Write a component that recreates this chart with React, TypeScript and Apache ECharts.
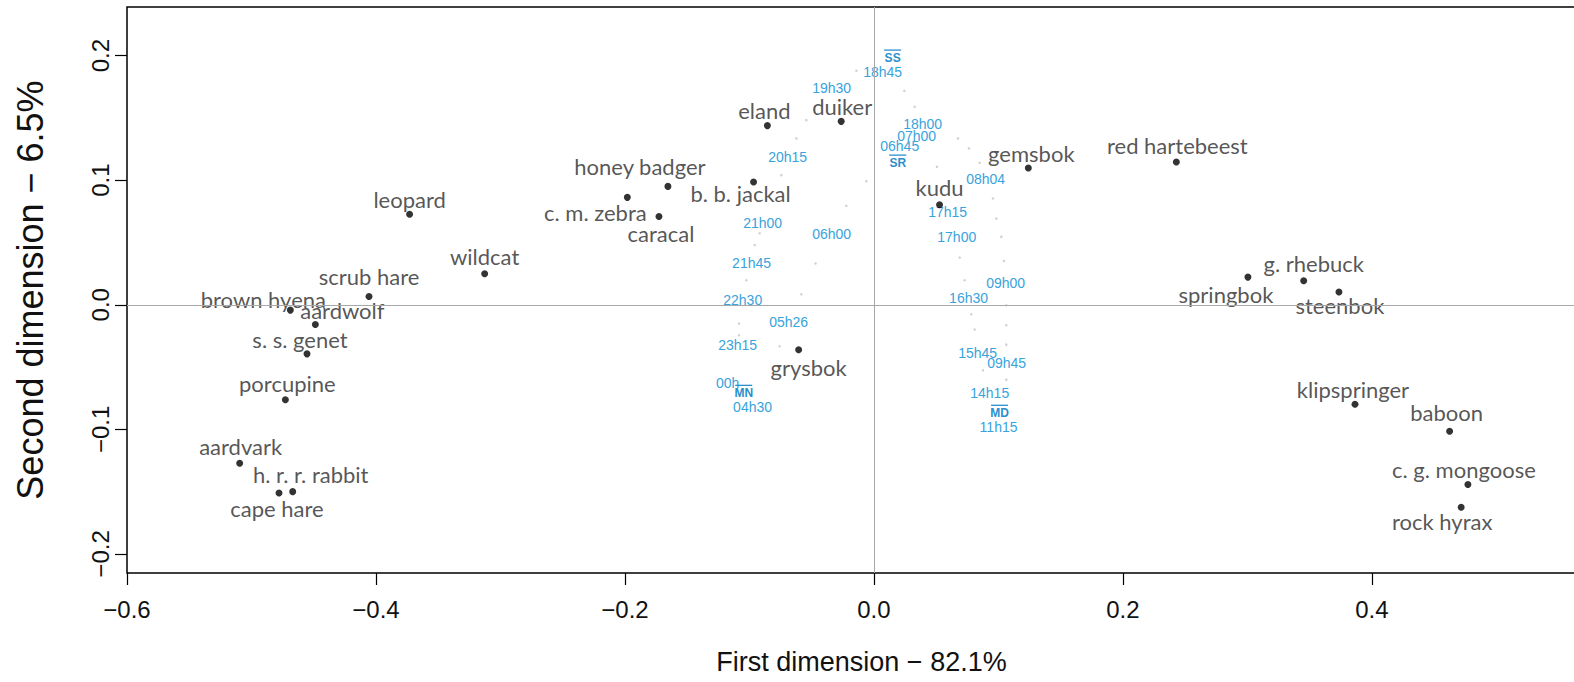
import React, { useEffect, useRef } from "react";
import * as echarts from "echarts";

// ---- Species (black points) ----
const SPECIES = [
  "leopard", "wildcat", "scrub hare", "brown hyena", "aardwolf", "s. s. genet",
  "porcupine", "aardvark", "h. r. r. rabbit", "cape hare",
  "eland", "duiker", "honey badger", "c. m. zebra", "caracal", "b. b. jackal",
  "grysbok", "kudu", "gemsbok", "red hartebeest", "springbok", "g. rhebuck",
  "steenbok", "klipspringer", "baboon", "c. g. mongoose", "rock hyrax",
];
const SPECIES_X = [
  -0.373, -0.3127, -0.4056, -0.4688, -0.4487, -0.4554,
  -0.4728, -0.5095, -0.4669, -0.4779,
  -0.0856, -0.0263, -0.1655, -0.1981, -0.1727, -0.0967,
  -0.0605, 0.0527, 0.124, 0.2429, 0.3004, 0.3452,
  0.3735, 0.3864, 0.4624, 0.4771, 0.4717,
];
const SPECIES_Y = [
  0.0726, 0.0249, 0.0066, -0.0043, -0.0159, -0.0394,
  -0.0763, -0.1272, -0.150, -0.1511,
  0.1438, 0.1472, 0.095, 0.0862, 0.0709, 0.0985,
  -0.0361, 0.0803, 0.1098, 0.1146, 0.0222, 0.0193,
  0.0102, -0.0798, -0.1015, -0.1443, -0.1625,
];
// where each species name sits relative to its point (pixels)
const SPECIES_LABEL_SHIFT: [number, number][] = [
  [0, -15], [0, -17], [0, -20], [-27, -11], [27, -14], [-7, -14],
  [2, -16], [1, -17], [18, -17], [-2, 15],
  [-3, -15], [1, -15], [-28, -20], [-32, 15], [2, 17], [-13, 11],
  [10, 18], [0, -17], [3, -14], [1, -16], [-22, 17], [10, -17],
  [1, 13], [-2, -15], [-3, -19], [-4, -15], [-19, 14],
];

// ---- Time-of-day points (blue labels) ----
const TIME_LABELS = [
  "SS", "18h45", "19h30", "20h15", "21h00", "21h45", "22h30", "23h15", "00h",
  "MN", "04h30", "05h26", "06h00", "06h45", "SR", "07h00", "08h04", "09h00",
  "09h45", "11h15", "MD", "14h15", "15h45", "16h30", "17h00", "17h15", "18h00",
];
const TIME_X = [
  0.015, 0.007, -0.034, -0.0693, -0.0894, -0.0983, -0.1054, -0.1095, -0.1175,
  -0.1046, -0.0975, -0.0685, -0.034, 0.0207, 0.0191, 0.0343, 0.0897, 0.1058,
  0.1066, 0.1001, 0.1009, 0.093, 0.0833, 0.076, 0.0665, 0.0592, 0.0391,
];
const TIME_Y = [
  0.1984, 0.1871, 0.1743, 0.1189, 0.0659, 0.0337, 0.004, -0.0321, -0.0627,
  -0.0707, -0.0819, -0.0137, 0.057, 0.1277, 0.1141, 0.1357, 0.1012, 0.0177,
  -0.0466, -0.098, -0.0867, -0.0707, -0.0386, 0.0056, 0.0546, 0.0747, 0.1454,
];
const SOLAR_MARKS = ["SS", "SR", "MN", "MD"];

// ---- unlabelled intermediate time points (faint) ----
const MINOR_X = [
  -0.0141, 0.0244, -0.0543, -0.0623, 0.0327, 0.0675, 0.0763, 0.0849, 0.0506,
  -0.0061, -0.0222, -0.0744, -0.0918, -0.0958, -0.0469, -0.1025, -0.0583,
  -0.1084, -0.1084, -0.0758, 0.0689, 0.1044, 0.1023, 0.0983, 0.0956, 0.0728,
  0.1063, 0.0782, 0.1063, 0.0809, 0.1063, 0.1063, 0.0876,
];
const MINOR_Y = [
  0.1878, 0.1717, 0.1482, 0.1335, 0.1589, 0.1335, 0.1255, 0.1139, 0.1107,
  0.0992, 0.0794, 0.104, 0.0574, 0.048, 0.0331, 0.0197, 0.0084,
  -0.0151, -0.0245, -0.0333, 0.0379, 0.0352, 0.0545, 0.0692, 0.0853, 0.0197,
  -0.0004, -0.0076, -0.0165, -0.0199, -0.032, -0.0601, -0.0526,
];

// ---- axes ----
const X_TICKS = [-0.6, -0.4, -0.2, 0.0, 0.2, 0.4];
const Y_TICKS = [-0.2, -0.1, 0.0, 0.1, 0.2];
const X_TITLE = "First dimension \u2212 82.1%";
const Y_TITLE = "Second dimension \u2212 6.5%";

const fmt = (v: number) => {
  const a = Math.abs(v).toFixed(1);
  return v < -1e-9 ? "\u2212" + a : a;
};

const AXIS_FONT = "'Liberation Sans', Arial, Helvetica, sans-serif";
const LABEL_FONT = "Lato, 'Open Sans', sans-serif";
const TIME_COLOR = "#38a3dc";

export default function App() {
  const ref = useRef<HTMLDivElement>(null);

  useEffect(() => {
    if (!ref.current) return;
    const chart = echarts.init(ref.current, undefined, { renderer: "svg" });

    const speciesData = SPECIES.map((name, i) => ({
      name,
      value: [SPECIES_X[i], SPECIES_Y[i]],
      label: { offset: SPECIES_LABEL_SHIFT[i] },
    }));
    const timeData = TIME_X.map((x, i) => [x, TIME_Y[i]]);
    const minorData = MINOR_X.map((x, i) => [x, MINOR_Y[i]]);

    const option: any = {
      animation: false,
      grid: {
        left: 127,
        top: 7,
        width: 1469,
        height: 566,
        show: true,
        borderColor: "#000",
        borderWidth: 1.5,
        backgroundColor: "transparent",
        containLabel: false,
        outerBoundsMode: "none",
      },
      xAxis: {
        type: "value",
        min: -0.6,
        max: 0.58,
        axisLine: { show: false, onZero: false },
        splitLine: { show: false },
        axisTick: {
          show: true,
          customValues: X_TICKS,
          length: 12,
          inside: false,
          lineStyle: { color: "#000", width: 1.2 },
        },
        axisLabel: {
          customValues: X_TICKS,
          formatter: fmt,
          fontFamily: AXIS_FONT,
          fontSize: 24,
          color: "#111",
          margin: 24,
        },
        name: X_TITLE,
        nameLocation: "middle",
        nameGap: 75,
        nameTextStyle: { fontFamily: AXIS_FONT, fontSize: 27, color: "#111" },
      },
      yAxis: {
        type: "value",
        min: -0.2153,
        max: 0.239,
        axisLine: { show: false, onZero: false },
        splitLine: { show: false },
        axisTick: {
          show: true,
          customValues: Y_TICKS,
          length: 12,
          inside: false,
          lineStyle: { color: "#000", width: 1.2 },
        },
        axisLabel: {
          customValues: Y_TICKS,
          formatter: fmt,
          rotate: 90,
          fontFamily: AXIS_FONT,
          fontSize: 24,
          color: "#111",
          margin: 15,
        },
        name: Y_TITLE,
        nameLocation: "middle",
        nameRotate: 90,
        nameGap: 79,
        nameTextStyle: { fontFamily: AXIS_FONT, fontSize: 36, color: "#111" },
      },
      series: [
        {
          type: "scatter",
          name: "minor",
          data: minorData,
          symbolSize: 2.5,
          itemStyle: { color: "#c4c4c4" },
          silent: true,
          z: 1,
          markLine: {
            silent: true,
            symbol: "none",
            label: { show: false },
            lineStyle: { color: "#a8a8a8", width: 1, type: "solid" },
            data: [{ xAxis: 0 }, { yAxis: 0 }],
          },
        },
        {
          type: "custom",
          name: "time",
          data: timeData,
          z: 3,
          renderItem: (params: any, api: any) => {
            const p = api.coord([api.value(0), api.value(1)]);
            const text = TIME_LABELS[params.dataIndex];
            const solar = SOLAR_MARKS.includes(text);
            const children: any[] = [
              {
                type: "text",
                x: p[0],
                y: p[1],
                style: {
                  text,
                  fill: solar ? "#2b8fcc" : TIME_COLOR,
                  fontSize: solar ? 12 : 14,
                  fontWeight: solar ? "bold" : "normal",
                  fontFamily: AXIS_FONT,
                  align: "center",
                  verticalAlign: "middle",
                },
              },
            ];
            if (solar) {
              const w = text.length * 8.5;
              children.push({
                type: "line",
                shape: { x1: p[0] - w / 2, y1: p[1] - 7.5, x2: p[0] + w / 2, y2: p[1] - 7.5 },
                style: { stroke: "#2b8fcc", lineWidth: 1.3 },
              });
            }
            return { type: "group", children };
          },
        },
        {
          type: "scatter",
          name: "species",
          data: speciesData,
          symbolSize: 7,
          itemStyle: { color: "#000" },
          z: 4,
          label: {
            show: true,
            position: "inside",
            formatter: (p: any) => p.name,
            fontFamily: LABEL_FONT,
            fontSize: 22,
            color: "#2a2a2a",
          },
        },
      ],
    };

    chart.setOption(option);
    return () => chart.dispose();
  }, []);

  return (
    <div
      ref={ref}
      style={{ position: "absolute", left: 0, top: 0, width: 1574, height: 682, background: "#fff" }}
    />
  );
}
